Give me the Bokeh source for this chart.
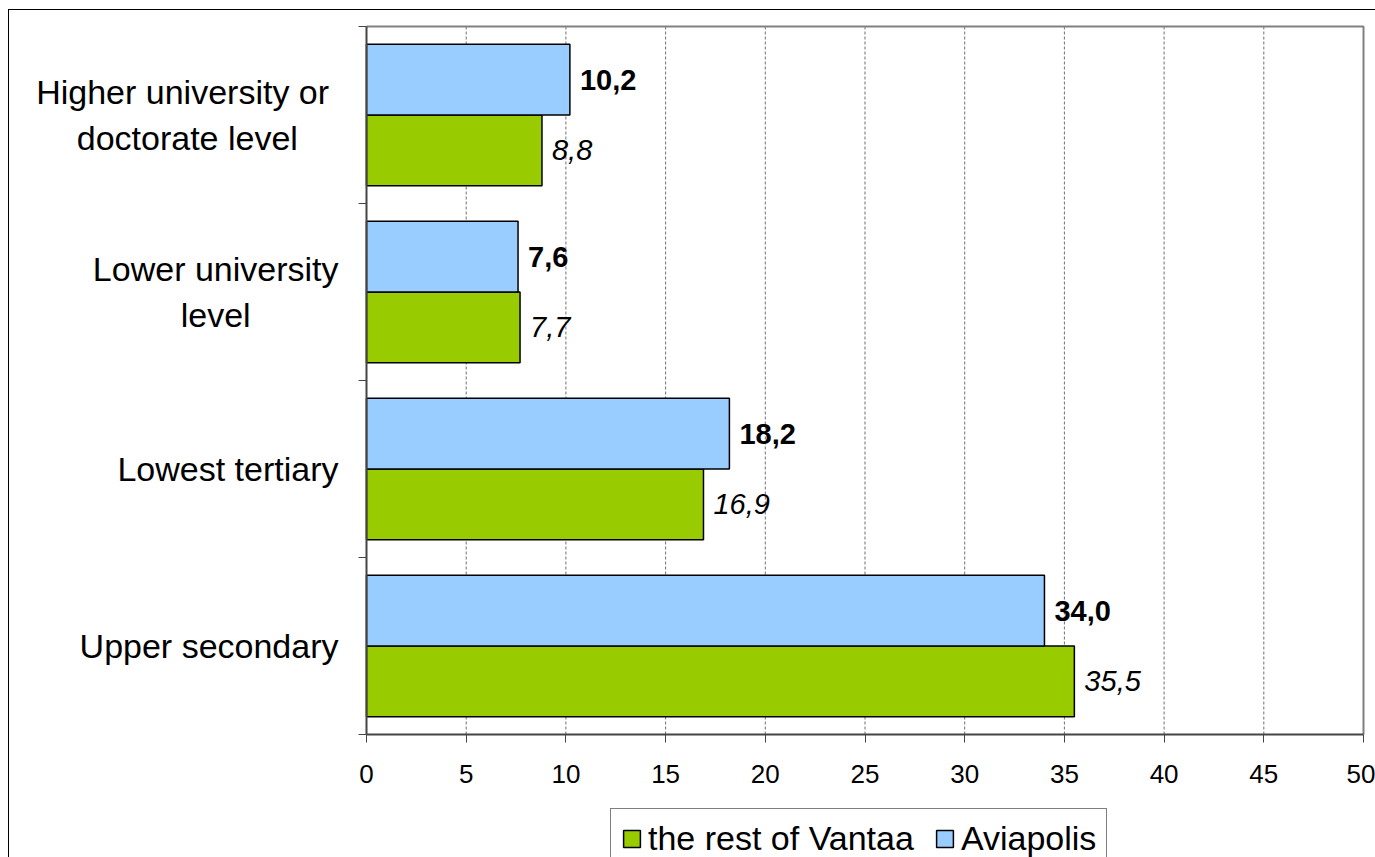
from bokeh.plotting import figure
from bokeh.models import Range1d, FixedTicker, Label, Legend, LegendItem, ColumnDataSource
from bokeh.core.properties import value
from bokeh.embed import file_html
from bokeh.resources import INLINE

# ---- data (bottom to top) ----
categories = ["Upper secondary", "Lowest tertiary", "Lower university\nlevel",
              "Higher university  or\ndoctorate level"]
aviapolis = [34.0, 18.2, 7.6, 10.2]
rest_of_vantaa = [35.5, 16.9, 7.7, 8.8]
x_ticks = [0, 5, 10, 15, 20, 25, 30, 35, 40, 45, 50]
series_names = ["the rest of Vantaa", "Aviapolis"]

# ---- layout / style constants (page pixels) ----
FONT = "Liberation Sans"
BLUE = "#99CCFF"
GREEN = "#99CC00"
AXIS_COL = "#454545"
CANVAS_X, CANVAS_Y, W, H = 9, 10, 1366, 847
PLOT_L, PLOT_R, PLOT_T, PLOT_B = 366, 1363, 26, 734

n = len(categories)
centers = [i + 0.5 for i in range(n)]
bar_h = 0.4

x_per = (PLOT_R - PLOT_L) / (x_ticks[-1] - x_ticks[0])
y_per = (PLOT_B - PLOT_T) / n
x_start = x_ticks[0] - (PLOT_L - CANVAS_X) / x_per
x_end = x_ticks[-1] + (CANVAS_X + W - PLOT_R) / x_per
y_start = 0 - (CANVAS_Y + H - PLOT_B) / y_per
y_end = n + (PLOT_T - CANVAS_Y) / y_per


def fmt(v):
    return f"{v:.1f}".replace(".", ",")


src_a = ColumnDataSource(dict(y=[c + bar_h / 2 for c in centers], v=aviapolis,
                              lab=[fmt(v) for v in aviapolis]))
src_r = ColumnDataSource(dict(y=[c - bar_h / 2 for c in centers], v=rest_of_vantaa,
                              lab=[fmt(v) for v in rest_of_vantaa]))

p = figure(width=W, height=H,
           x_range=Range1d(x_start, x_end), y_range=Range1d(y_start, y_end),
           output_backend="svg", toolbar_location=None,
           min_border=0, min_border_left=0, min_border_right=0,
           min_border_top=0, min_border_bottom=0)
p.background_fill_color = "white"
p.border_fill_color = "white"
p.outline_line_color = None
p.styles = {"outline": "1px solid black", "margin-left": f"{CANVAS_X}px",
            "margin-top": f"{CANVAS_Y}px"}
p.xgrid.visible = False
p.ygrid.visible = False

# dashed vertical gridlines over the plot area
p.segment(x0=x_ticks[1:-1], y0=[0] * (len(x_ticks) - 2), x1=x_ticks[1:-1],
          y1=[n] * (len(x_ticks) - 2), line_color="#707070", line_dash="3 2", line_width=1)

r_rest = p.hbar(y="y", right="v", left=0, height=bar_h, source=src_r,
                fill_color=GREEN, line_color="black", line_width=1.5)
r_avia = p.hbar(y="y", right="v", left=0, height=bar_h, source=src_a,
                fill_color=BLUE, line_color="black", line_width=1.5)

# plot-area border (top and right)
p.line(x=[x_ticks[0], x_ticks[-1], x_ticks[-1]], y=[n, n, 0], line_color="#808080",
       line_width=2)

p.text(x="v", y="y", text="lab", source=src_a, x_offset=10, text_baseline="middle",
       text_font=value(FONT), text_font_size="29px", text_font_style="bold", text_color="black")
p.text(x="v", y="y", text="lab", source=src_r, x_offset=10, text_baseline="middle",
       text_font=value(FONT), text_font_size="29px", text_font_style="italic", text_color="black")

# x axis placed at y = 0
xa = p.xaxis[0]
xa.fixed_location = 0
xa.bounds = (x_ticks[0], x_ticks[-1])
xa.ticker = FixedTicker(ticks=x_ticks)
xa.axis_line_color = AXIS_COL
xa.axis_line_width = 2
xa.major_tick_line_color = AXIS_COL
xa.major_tick_out = 8
xa.major_tick_in = 0
xa.minor_tick_line_color = None
xa.major_label_text_font = FONT
xa.major_label_text_font_size = "26px"
xa.major_label_text_color = "black"
xa.major_label_standoff = 22

# y axis placed at x = 0, ticks at category boundaries
ya = p.yaxis[0]
ya.fixed_location = x_ticks[0]
ya.bounds = (0, n)
ya.ticker = FixedTicker(ticks=[], minor_ticks=list(range(n + 1)))
ya.axis_line_color = AXIS_COL
ya.axis_line_width = 2
ya.major_tick_line_color = None
ya.minor_tick_line_color = AXIS_COL
ya.minor_tick_out = 8
ya.minor_tick_in = 0
ya.major_label_text_font_size = "0px"

# category labels: block right-aligned, lines centred
for c, name in zip(centers, categories):
    p.add_layout(Label(x=x_ticks[0], y=c, x_offset=-28, text=name,
                       anchor="center_right", text_align="center",
                       text_font=FONT, text_font_size="34px", text_color="black",
                       text_line_height=1.2))

legend = Legend(items=[LegendItem(label=series_names[0], renderers=[r_rest]),
                       LegendItem(label=series_names[1], renderers=[r_avia])],
                orientation="horizontal", location=(610 - CANVAS_X, -12),
                border_line_color="black", border_line_width=1,
                background_fill_color="white", background_fill_alpha=1,
                label_text_font=FONT, label_text_font_size="34px", label_text_color="black",
                glyph_width=21, glyph_height=21, padding=10, spacing=20,
                label_standoff=6, margin=0)
p.add_layout(legend)

open("out.html", "w").write(file_html(p, INLINE))
